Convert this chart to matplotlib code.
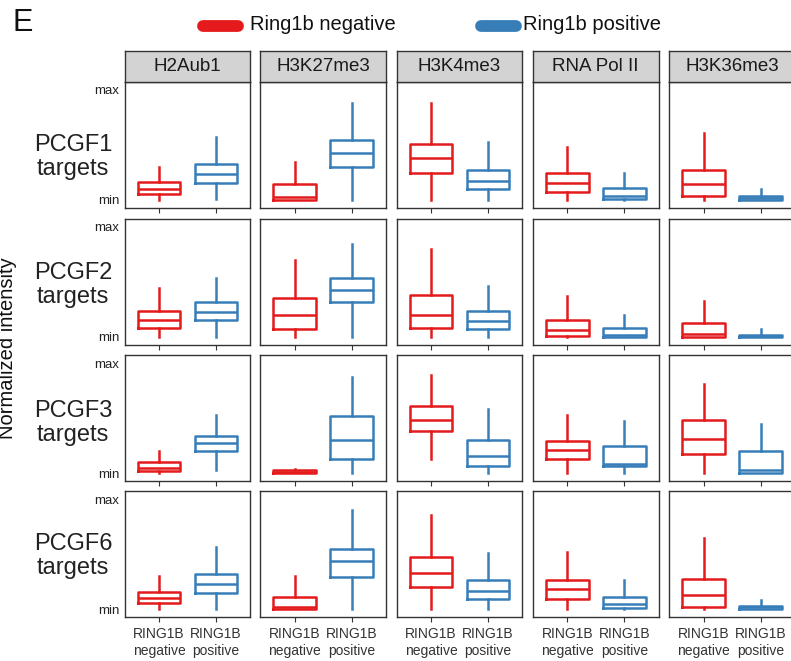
import matplotlib
matplotlib.use("Agg")
import matplotlib.pyplot as plt
from matplotlib.lines import Line2D

plt.rcParams['font.family'] = ['Liberation Sans', 'DejaVu Sans']

rows = ["PCGF1", "PCGF2", "PCGF3", "PCGF6"]
marks = ["H2Aub1", "H3K27me3", "H3K4me3", "RNA Pol II", "H3K36me3"]
groups = ["RING1B\nnegative", "RING1B\npositive"]
legend_labels = ["Ring1b negative", "Ring1b positive"]
colors = ["#E41A1C", "#377EB8"]

# statistics per row (PCGF) x column (mark): whisker low, Q1, median, Q3, whisker high
neg_low = [[0.0, 0.0, 0.0, 0.0, 0.0],
           [0.0, 0.0, 0.0, 0.0, 0.0],
           [0.0, 0.0, 0.125, 0.0, 0.0],
           [0.0, 0.0, 0.0, 0.0, 0.0]]
neg_q1 = [[0.055, 0.0, 0.248, 0.076, 0.039],
          [0.075, 0.066, 0.078, 0.003, 0.0],
          [0.015, 0.0, 0.379, 0.125, 0.173],
          [0.051, 0.0, 0.200, 0.087, 0.018]]
neg_med = [[0.103, 0.030, 0.385, 0.155, 0.143],
           [0.152, 0.197, 0.194, 0.057, 0.021],
           [0.048, 0.010, 0.481, 0.212, 0.313],
           [0.101, 0.015, 0.328, 0.179, 0.131]]
neg_q3 = [[0.161, 0.143, 0.506, 0.242, 0.273],
          [0.236, 0.349, 0.373, 0.152, 0.125],
          [0.096, 0.025, 0.609, 0.293, 0.481],
          [0.155, 0.113, 0.469, 0.263, 0.275]]
neg_high = [[0.297, 0.348, 0.879, 0.485, 0.612],
            [0.445, 0.693, 0.797, 0.364, 0.325],
            [0.197, 0.035, 0.890, 0.528, 0.812],
            [0.296, 0.299, 0.857, 0.519, 0.642]]

pos_low = [[0.006, 0.0, 0.0, 0.0, 0.0],
           [0.0, 0.0, 0.0, 0.0, 0.0],
           [0.030, 0.0, 0.0, 0.0, 0.0],
           [0.0, 0.0, 0.0, 0.0, 0.0]]
pos_q1 = [[0.158, 0.303, 0.097, 0.009, 0.0],
          [0.152, 0.310, 0.072, 0.0, 0.0],
          [0.200, 0.125, 0.060, 0.063, 0.0],
          [0.149, 0.287, 0.087, 0.009, 0.0]]
pos_med = [[0.236, 0.430, 0.173, 0.036, 0.015],
           [0.227, 0.427, 0.143, 0.015, 0.006],
           [0.272, 0.301, 0.155, 0.084, 0.030],
           [0.230, 0.433, 0.164, 0.048, 0.015]]
pos_q3 = [[0.327, 0.545, 0.273, 0.106, 0.033],
          [0.313, 0.534, 0.236, 0.081, 0.015],
          [0.334, 0.516, 0.299, 0.245, 0.197],
          [0.322, 0.543, 0.260, 0.113, 0.027]]
pos_high = [[0.570, 0.879, 0.530, 0.248, 0.100],
            [0.534, 0.842, 0.463, 0.191, 0.066],
            [0.525, 0.875, 0.585, 0.472, 0.442],
            [0.561, 0.896, 0.510, 0.266, 0.081]]

W, H = 791, 661
fig = plt.figure(figsize=(W / 100, H / 100), dpi=100)

col_left = [124.7, 260.3, 396.7, 533.0, 669.3]
row_top = [82.0, 218.5, 355.0, 491.0]
row_label_y = [157, 285, 423, 556]
pw, ph = 125.5, 126.0
strip_h = 31.3
edge = "#333333"
lw_box = 1.8

def fax(l, t, w, h):
    return fig.add_axes([l / W, 1 - (t + h) / H, w / W, h / H])

for r in range(len(rows)):
    for c in range(len(marks)):
        ax = fax(col_left[c], row_top[r], pw, ph)
        stats = []
        for lo, q1, md, q3, hi in [
                (neg_low, neg_q1, neg_med, neg_q3, neg_high),
                (pos_low, pos_q1, pos_med, pos_q3, pos_high)]:
            stats.append(dict(whislo=lo[r][c], q1=q1[r][c], med=md[r][c],
                              q3=q3[r][c], whishi=hi[r][c], fliers=[]))
        for g in range(2):
            ax.bxp([stats[g]], positions=[g + 1], widths=0.75, showfliers=False,
                   showcaps=False, patch_artist=False,
                   boxprops=dict(color=colors[g], linewidth=lw_box),
                   medianprops=dict(color=colors[g], linewidth=lw_box),
                   whiskerprops=dict(color=colors[g], linewidth=lw_box))
        ax.set_xlim(0.4, 2.6)
        ax.set_ylim(-8 / 110, 1 + 8 / 110)
        for s in ax.spines.values():
            s.set_color(edge)
            s.set_linewidth(1.0)
        ax.set_xticks([1, 2])
        if r == len(rows) - 1:
            ax.set_xticklabels(groups, fontsize=10, color="#333333", linespacing=1.2)
        else:
            ax.set_xticklabels([])
        ax.tick_params(axis='x', length=3.5, width=0.8, color=edge, pad=4)
        if c == 0:
            ax.set_yticks([0, 1])
            ax.set_yticklabels(["min", "max"], fontsize=9.5, color="#222222")
            ax.tick_params(axis='y', length=0, pad=4)
        else:
            ax.set_yticks([])
        if r == 0:
            sax = fax(col_left[c], row_top[0] - strip_h, pw, strip_h)
            sax.set_facecolor("#D3D3D3")
            sax.set_xticks([])
            sax.set_yticks([])
            for s in sax.spines.values():
                s.set_color(edge)
                s.set_linewidth(1.0)
            sax.text(0.5, 0.48, marks[c], transform=sax.transAxes, ha='center',
                     va='center', fontsize=13.5, color="#1a1a1a")
    fig.text(73 / W, 1 - row_label_y[r] / H, rows[r] + "\ntargets",
             ha='center', va='center', fontsize=17, color="#222222",
             linespacing=1.12)

# y-axis title
fig.text(8 / W, 1 - 348 / H, "Normalized intensity", rotation=90, ha='center',
         va='center', fontsize=14.5, color="#111111")

# panel letter
fig.text(13 / W, 1 - 23 / H, "E", ha='left', va='center', fontsize=22, color="#111111")

# legend
leg_x = [(203, 238, 250), (481, 516, 523)]
for g in range(2):
    x0, x1, tx = leg_x[g]
    fig.add_artist(Line2D([x0 / W, x1 / W], [1 - 26 / H, 1 - 26 / H],
                          color=colors[g], linewidth=8.5, solid_capstyle='round'))
    fig.text(tx / W, 1 - 25 / H, legend_labels[g], ha='left', va='center',
             fontsize=14.5, color="#111111")

fig.savefig("out.png", dpi=100)
